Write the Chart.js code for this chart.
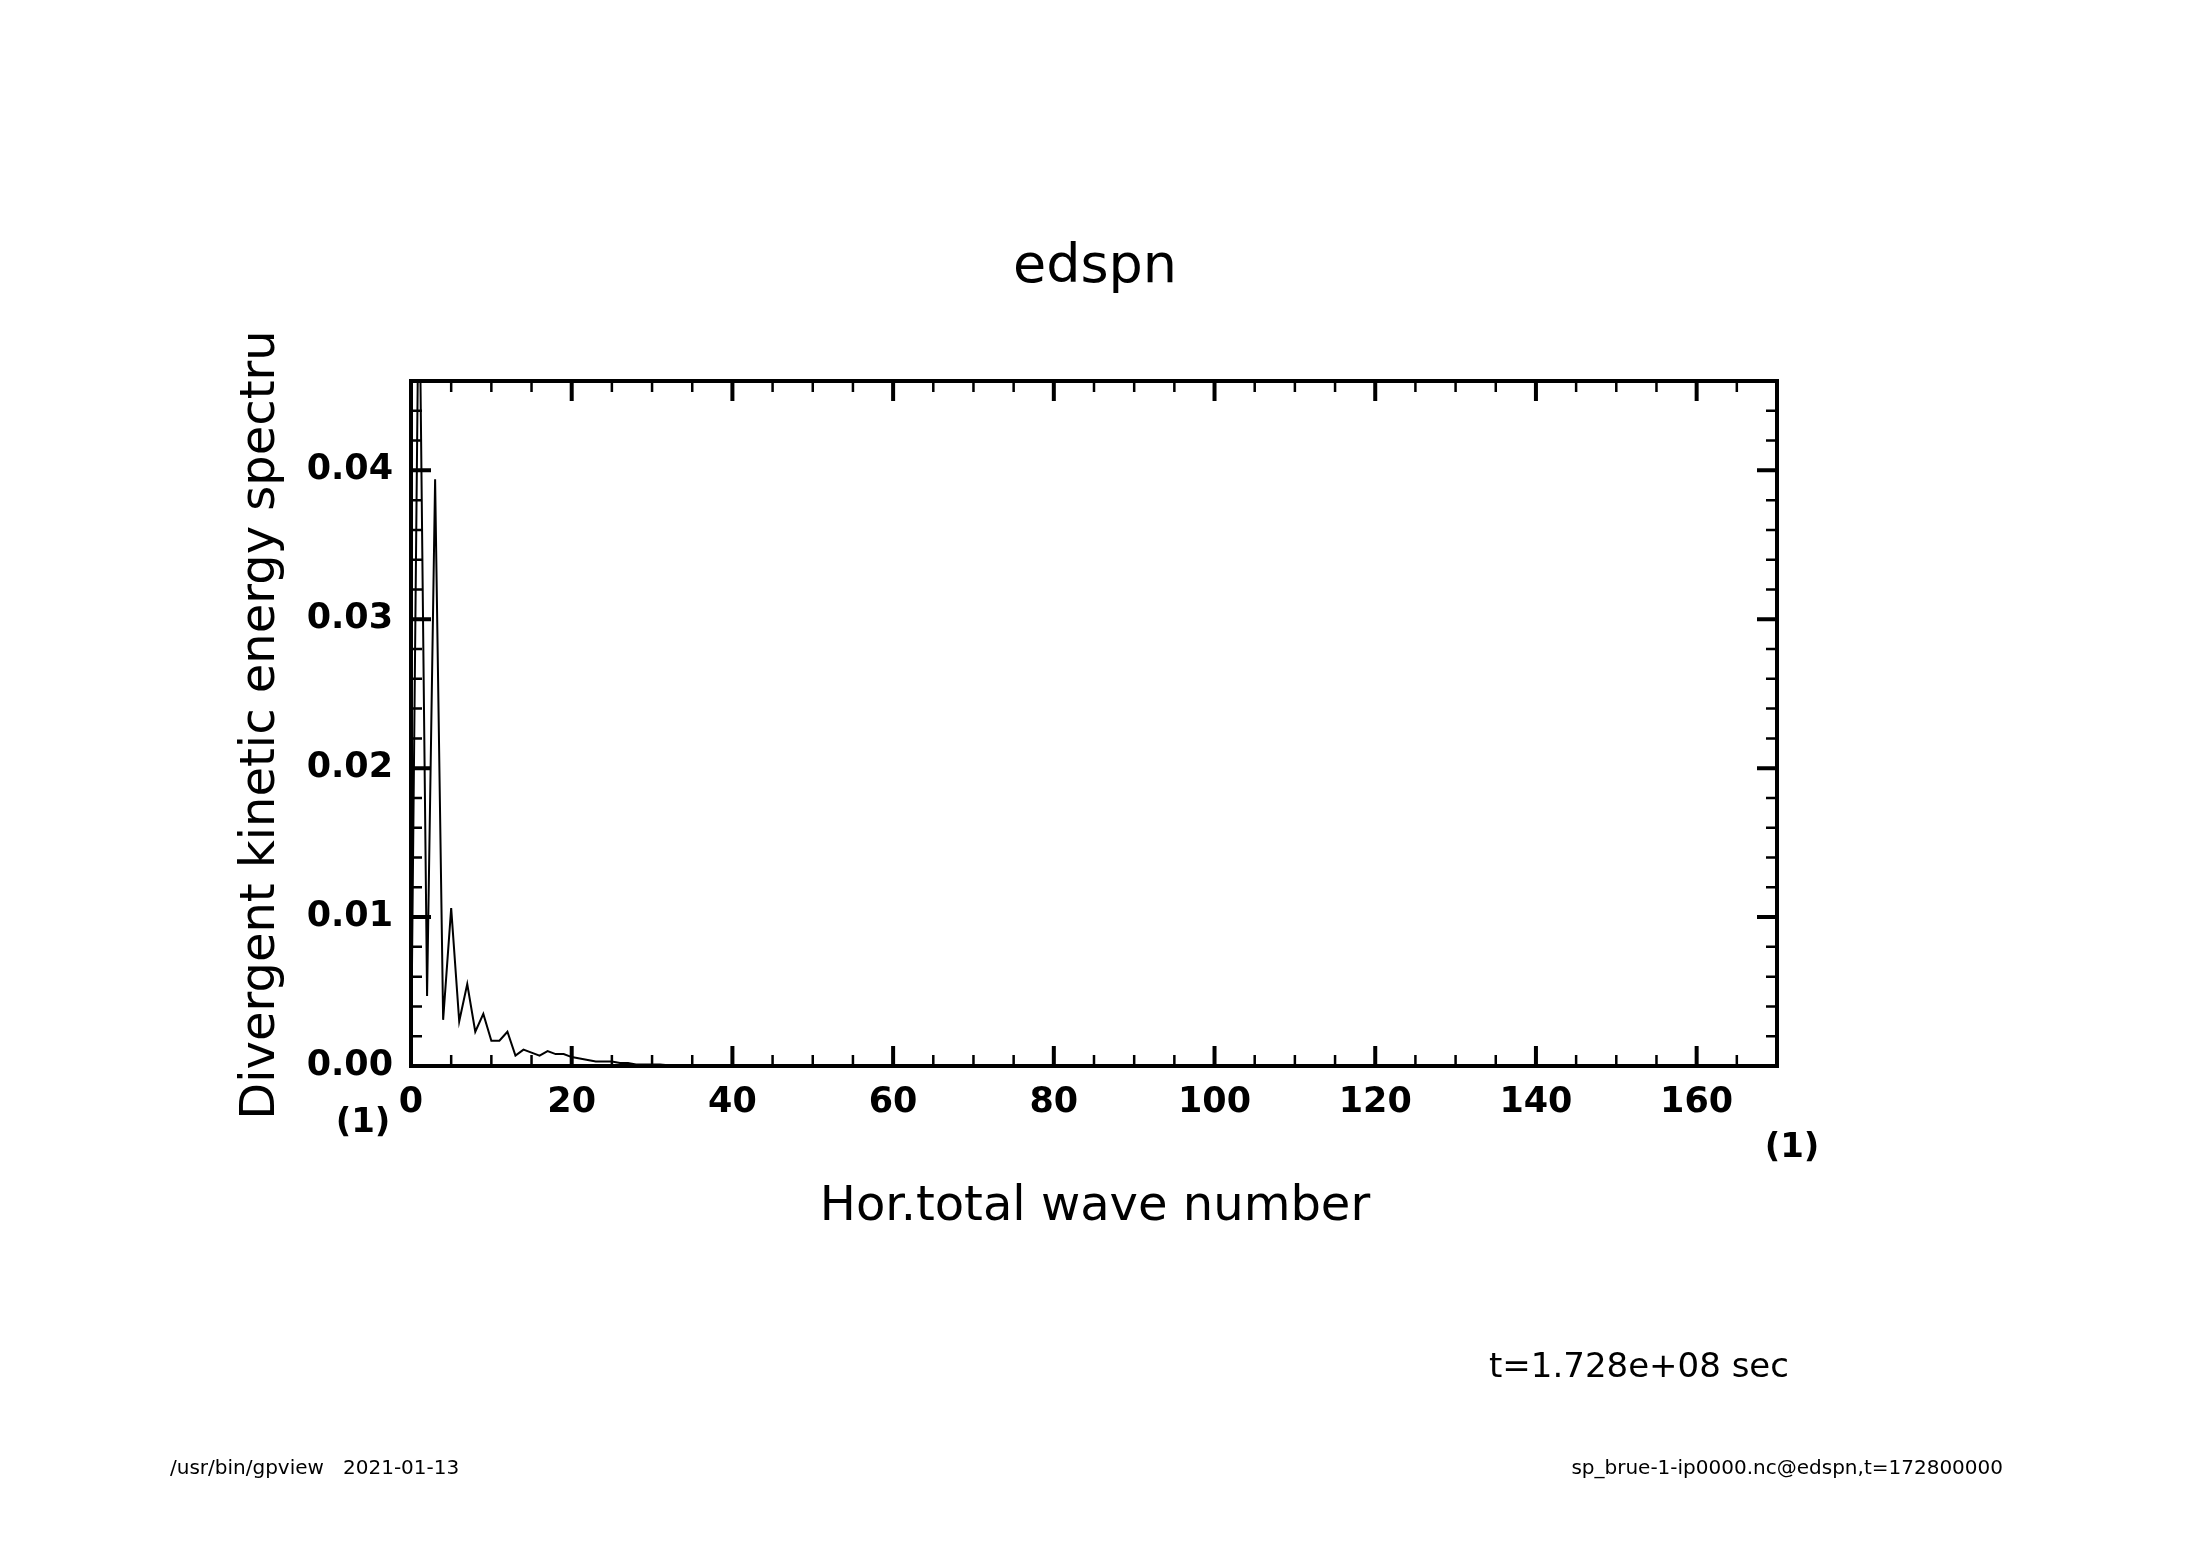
<!DOCTYPE html>
<html>
<head>
<meta charset="utf-8">
<script src="https://cdn.jsdelivr.net/npm/chart.js@4"></script>
<style>
  html, body { margin: 0; padding: 0; background: #fff; }
  canvas { display: block; }
</style>
</head>
<body>
<canvas id="grafico" width="2188" height="1546"></canvas>
<script>
// numero de onda e espectro
const waveNumber = [];
for (let n = 0; n <= 170; n++) waveNumber.push(n);
const energyHead = [0.0, 0.055, 0.0047, 0.0394, 0.0031, 0.0106, 0.0030, 0.0055, 0.0023, 0.0035,
    0.0017, 0.0017, 0.0023, 0.0007, 0.0011, 0.0009, 0.0007, 0.0010, 0.0008, 0.0008,
    0.0006, 0.0005, 0.0004, 0.0003, 0.0003, 0.0003, 0.0002, 0.0002, 0.0001, 0.0001,
    0.0001, 0.0001, 0.00005, 0.00005, 0.00003, 0.00002, 0.00001, 0.00001, 0.0, 0.0];
const energy = waveNumber.map(n => n < energyHead.length ? energyHead[n] : 0);
const xTicks = [0, 20, 40, 60, 80, 100, 120, 140, 160];
const yTicks = [0, 0.01, 0.02, 0.03, 0.04];

const fonte = "'DejaVu Sans', sans-serif";

// moldura, marcas internas e textos
const moldura = {
    id: 'moldura',
    afterDraw(chart) {
        const c = chart.ctx, a = chart.chartArea;
        const x = chart.scales.x, y = chart.scales.y;
        c.save();
        c.strokeStyle = '#000';
        c.lineWidth = 4;
        c.strokeRect(a.left, a.top, a.right - a.left, a.bottom - a.top);
        for (let v = 0; v <= 170; v += 5) {
            const px = x.getPixelForValue(v);
            const len = v % 20 === 0 ? 20 : 11;
            c.lineWidth = v % 20 === 0 ? 4 : 2.5;
            c.beginPath();
            c.moveTo(px, a.bottom); c.lineTo(px, a.bottom - len);
            c.moveTo(px, a.top); c.lineTo(px, a.top + len);
            c.stroke();
        }
        for (let i = 0; i <= 23; i++) {
            const v = i * 0.002;
            const py = y.getPixelForValue(v);
            const len = i % 5 === 0 ? 20 : 11;
            c.lineWidth = i % 5 === 0 ? 4 : 2.5;
            c.beginPath();
            c.moveTo(a.left, py); c.lineTo(a.left + len, py);
            c.moveTo(a.right, py); c.lineTo(a.right - len, py);
            c.stroke();
        }
        c.fillStyle = '#000';
        c.textBaseline = 'middle';
        c.textAlign = 'center';
        c.font = '54px ' + fonte;
        c.fillText('edspn', 1095, 268);
        c.font = '48px ' + fonte;
        c.fillText('Hor.total wave number', 1095, 1208);
        c.font = '600 34px ' + fonte;
        c.fillText('(1)', 363, 1123);
        c.fillText('(1)', 1792, 1148);
        c.font = '34px ' + fonte;
        c.fillText('t=1.728e+08 sec', 1639, 1368);
        c.font = '20px ' + fonte;
        c.textAlign = 'left';
        c.fillText('/usr/bin/gpview   2021-01-13', 170, 1469);
        c.textAlign = 'right';
        c.fillText('sp_brue-1-ip0000.nc@edspn,t=172800000', 2003, 1469);
        c.translate(262, 725);
        c.rotate(-Math.PI / 2);
        c.textAlign = 'center';
        c.font = '48px ' + fonte;
        c.fillText('Divergent kinetic energy spectru', 0, 0);
        c.restore();
    }
};

new Chart(document.querySelector('#grafico'), {
    type: 'line',
    data: {
        labels: waveNumber,
        datasets: [{
            data: energy,
            borderColor: '#000',
            borderWidth: 2,
            pointRadius: 0,
            tension: 0
        }]
    },
    options: {
        responsive: false,
        animation: false,
        layout: { padding: { left: 0, right: 411, top: 381, bottom: 420 } },
        plugins: { legend: { display: false }, tooltip: { enabled: false } },
        scales: {
            x: {
                type: 'linear', min: 0, max: 170,
                grid: { display: false },
                border: { display: false },
                afterFit(s) { s.height = 60; },
                afterBuildTicks(s) { s.ticks = xTicks.map(v => ({ value: v })); },
                ticks: {
                    padding: 8, maxRotation: 0, autoSkip: false,
                    color: '#000', font: { family: fonte, size: 35, weight: '600' },
                    callback: v => v
                }
            },
            y: {
                min: 0, max: 0.046,
                grid: { display: false },
                border: { display: false },
                afterFit(s) { s.width = 411; },
                afterBuildTicks(s) { s.ticks = yTicks.map(v => ({ value: v })); },
                ticks: {
                    padding: 10,
                    color: '#000', font: { family: fonte, size: 35, weight: '600' },
                    callback: v => v.toFixed(2)
                }
            }
        }
    },
    plugins: [moldura]
});
</script>
</body>
</html>
